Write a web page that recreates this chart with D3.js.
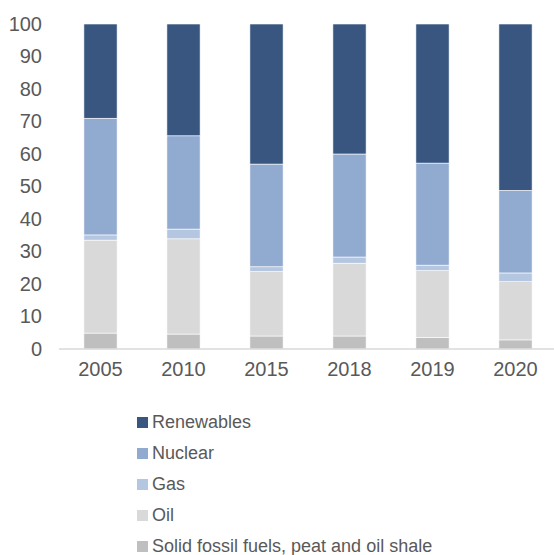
<!DOCTYPE html>
<html>
<head>
<meta charset="utf-8">
<script src="https://cdn.jsdelivr.net/npm/d3@7"></script>
<style>
  html, body { margin: 0; padding: 0; background: #fff; }
  svg { display: block; }
</style>
</head>
<body>
<svg id="chart" width="554" height="555"></svg>
<script>
const years = ["2005", "2010", "2015", "2018", "2019", "2020"];
const seriesNames = ["Solid fossil fuels, peat and oil shale", "Oil", "Gas", "Nuclear", "Renewables"];
const solid      = [4.9, 4.6, 4.0, 4.0, 3.6, 2.8];
const oil        = [28.6, 29.3, 19.8, 22.4, 20.5, 17.9];
const gas        = [1.6, 3.0, 1.5, 1.9, 1.7, 2.7];
const nuclear    = [35.9, 28.7, 31.6, 31.7, 31.4, 25.4];
const renewables = [29.0, 34.4, 43.1, 40.0, 42.8, 51.2];
const yTicks = [0, 10, 20, 30, 40, 50, 60, 70, 80, 90, 100];
const colors = ["#bfbfbf", "#d9d9d9", "#b4c6e0", "#91aad0", "#38567f"];

const seriesValues = [solid, oil, gas, nuclear, renewables];
const table = years.map((y, i) => {
  const row = { year: y };
  seriesNames.forEach((n, k) => row[n] = seriesValues[k][i]);
  return row;
});

const svg = d3.select("#chart");
const x = d3.scaleBand().domain(years).range([59, 557]).paddingInner(0.6).paddingOuter(0.3);
const y = d3.scaleLinear().domain([0, 100]).range([349, 24]);

const stack = d3.stack().keys(seriesNames);
const layers = stack(table);

svg.append("g").selectAll("g")
  .data(layers).join("g")
  .attr("fill", (d, i) => colors[i])
  .selectAll("rect")
  .data(d => d).join("rect")
  .attr("x", d => x(d.data.year))
  .attr("width", x.bandwidth())
  .attr("y", d => y(d[1]))
  .attr("height", d => y(d[0]) - y(d[1]))
  .attr("stroke", "#ffffff")
  .attr("stroke-width", 0.6);

// baseline
svg.append("line")
  .attr("x1", 59).attr("x2", 554)
  .attr("y1", y(0)).attr("y2", y(0))
  .attr("stroke", "#d9d9d9").attr("stroke-width", 1.5);

// y axis labels
const yAxis = d3.axisLeft(y).tickValues(yTicks).tickSize(0).tickPadding(0);
const gy = svg.append("g").attr("transform", "translate(42,0)").call(yAxis);
gy.select(".domain").remove();
gy.selectAll("text")
  .attr("fill", "#595959")
  .style("font-family", "'Liberation Sans', Arial, sans-serif")
  .style("font-size", "20px");

// x axis labels
const xAxis = d3.axisBottom(x).tickSize(0).tickPadding(0);
const gx = svg.append("g").attr("transform", "translate(0,362)").call(xAxis);
gx.select(".domain").remove();
gx.selectAll("text")
  .attr("fill", "#595959")
  .attr("dy", "0.71em")
  .style("font-family", "'Liberation Sans', Arial, sans-serif")
  .style("font-size", "20px");

// legend
const legendOrder = seriesNames.slice().reverse();
const legendColors = colors.slice().reverse();
const lg = svg.append("g").attr("transform", "translate(137,0)");
legendOrder.forEach((name, i) => {
  const baseY = 428 + i * 31;
  lg.append("rect")
    .attr("x", 0).attr("y", baseY - 11)
    .attr("width", 11).attr("height", 11)
    .attr("fill", legendColors[i]);
  lg.append("text")
    .attr("x", 15).attr("y", baseY)
    .attr("fill", "#595959")
    .style("font-family", "'Liberation Sans', Arial, sans-serif")
    .style("font-size", "18px")
    .text(name);
});
</script>
</body>
</html>
